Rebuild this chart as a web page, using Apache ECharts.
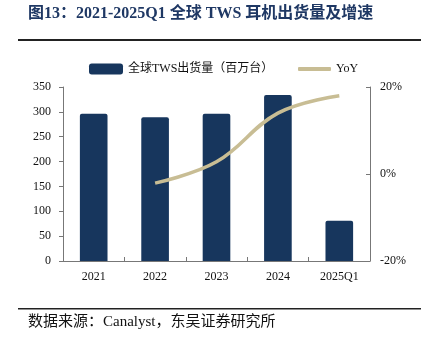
<!DOCTYPE html>
<html>
<head>
<meta charset="utf-8">
<script src="https://cdn.jsdelivr.net/npm/echarts@6/dist/echarts.min.js"></script>
<style>
html,body{margin:0;padding:0;background:#fff;}
#chart{width:428px;height:343px;}
</style>
</head>
<body>
<div id="chart"></div>
<script>
// Global TWS earbud shipments (million units) and year-over-year growth
const categories = ['2021', '2022', '2023', '2024', '2025Q1'];
const shipments = [296, 289, 296, 334, 81];
const yoy = [null, -2.1, 2.8, 14.0, 18.0];
const leftTicks = [0, 50, 100, 150, 200, 250, 300, 350];
const rightTicks = [-20, 0, 20];

const serif = '"Liberation Serif", "Times New Roman", "Noto Sans CJK SC", serif';
const navy = '#17365d';
const sand = '#c8bd94';
const barName = '全球TWS出货量（百万台）';

const chart = echarts.init(document.getElementById('chart'), null, {renderer: 'canvas'});
chart.setOption({
  animation: false,
  graphic: [
    {type: 'text', left: 28, top: 6, style: {text: '图13：2021-2025Q1 全球 TWS 耳机出货量及增速', font: 'bold 16px ' + serif, fill: '#1f3864'}},
    {type: 'rect', shape: {x: 18, y: 39, width: 403, height: 2}, style: {fill: '#222'}},
    {type: 'rect', shape: {x: 18, y: 308, width: 403, height: 1.5}, style: {fill: '#222'}},
    {type: 'text', left: 28, top: 315, style: {text: '数据来源：Canalyst，东吴证券研究所', font: '15px ' + serif, fill: '#111'}}
  ],
  legend: [
    {
      top: 58, left: 84,
      itemWidth: 34, itemHeight: 11,
      textStyle: {fontFamily: serif, fontSize: 12, color: '#111'},
      data: [{name: barName, icon: 'roundRect'}]
    },
    {
      top: 58, left: 293,
      itemWidth: 33, itemHeight: 4,
      textStyle: {fontFamily: serif, fontSize: 12, color: '#111'},
      data: [{name: 'YoY', icon: 'roundRect'}]
    }
  ],
  grid: {left: 63, right: 58, top: 87, bottom: 82},
  xAxis: {
    type: 'category',
    data: categories,
    axisLine: {lineStyle: {color: '#777'}},
    axisTick: {show: true, inside: true, length: 4, lineStyle: {color: '#777'}},
    axisLabel: {fontFamily: serif, fontSize: 12, color: '#111', margin: 10}
  },
  yAxis: [
    {
      type: 'value', min: leftTicks[0], max: leftTicks[leftTicks.length - 1], interval: 50,
      axisLine: {show: true, lineStyle: {color: '#777'}},
      axisTick: {show: true, length: 4, lineStyle: {color: '#777'}},
      splitLine: {show: false},
      axisLabel: {fontFamily: serif, fontSize: 12, color: '#111', margin: 12}
    },
    {
      type: 'value', min: rightTicks[0], max: rightTicks[rightTicks.length - 1], interval: 20,
      axisLine: {show: true, lineStyle: {color: '#777'}},
      axisTick: {show: true, inside: true, length: 4, lineStyle: {color: '#777'}},
      splitLine: {show: false},
      axisLabel: {fontFamily: serif, fontSize: 12, color: '#111', margin: 10, formatter: v => v + '%'}
    }
  ],
  series: [
    {
      name: barName,
      type: 'bar',
      data: shipments,
      barWidth: '45%',
      itemStyle: {color: navy, borderRadius: [2, 2, 0, 0]}
    },
    {
      name: 'YoY',
      type: 'line',
      yAxisIndex: 1,
      data: yoy,
      smooth: 0.4,
      showSymbol: false,
      symbol: 'none',
      lineStyle: {color: sand, width: 3.5},
      itemStyle: {color: sand}
    }
  ]
});
</script>
</body>
</html>
